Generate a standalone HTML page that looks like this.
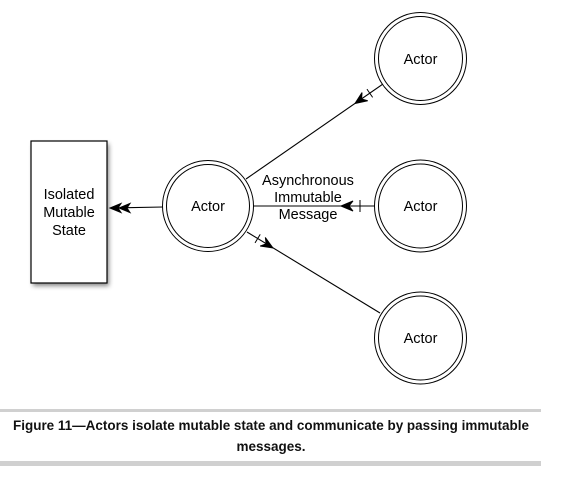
<!DOCTYPE html>
<html><head><style>
html,body{margin:0;padding:0;background:#fff;}
svg{display:block;}
</style></head><body>
<svg width="561" height="480" xmlns="http://www.w3.org/2000/svg" font-family="'Liberation Sans', sans-serif">
<defs>
<filter id="sh" x="-20%" y="-20%" width="150%" height="150%"><feGaussianBlur stdDeviation="2.5"/></filter>
</defs>
<rect x="33" y="144" width="76" height="142" fill="#555" filter="url(#sh)" opacity="0.7"/>
<rect x="31" y="141" width="76" height="142" fill="#fff" stroke="#000" stroke-width="1.2"/>
<text x="69" y="199" font-size="14.5" text-anchor="middle">Isolated</text>
<text x="69" y="217" font-size="14.5" text-anchor="middle">Mutable</text>
<text x="69" y="235" font-size="14.5" text-anchor="middle">State</text>

<g stroke="#000" stroke-width="1.1" fill="none">
<line x1="163" y1="207" x2="112" y2="208"/>
<line x1="383" y1="84" x2="246" y2="179"/>
<line x1="375" y1="206" x2="253" y2="206"/>
<line x1="247" y1="232" x2="380" y2="313"/>
</g>

<g fill="#000" stroke="#000" stroke-width="1">
<g transform="translate(110,208) rotate(180)"><path d="M0,0 L-11,-4.5 L-8,0 L-11,4.5Z"/><path d="M-9,0 L-20,-4.5 L-17,0 L-20,4.5Z"/></g>
<g transform="translate(355,103.5) rotate(145.3)"><path d="M0,0 L-12,-5 L-8,0 L-12,5Z"/><line x1="-18" y1="-5" x2="-18" y2="5"/></g>
<g transform="translate(341,206) rotate(180)"><path d="M0,0 L-12,-5 L-8,0 L-12,5Z"/><line x1="-19" y1="-6" x2="-19" y2="6"/></g>
<g transform="translate(273,248) rotate(31.3)"><path d="M0,0 L-12,-5 L-8,0 L-12,5Z"/><line x1="-18" y1="-5" x2="-18" y2="5"/></g>
</g>

<g fill="#fff" stroke="#000" stroke-width="1">
<circle cx="208" cy="206" r="45.5"/><circle cx="208" cy="206" r="41.5"/>
<circle cx="420.5" cy="58.5" r="46"/><circle cx="420.5" cy="58.5" r="42"/>
<circle cx="420.5" cy="206" r="46"/><circle cx="420.5" cy="206" r="42"/>
<circle cx="420.5" cy="338" r="46"/><circle cx="420.5" cy="338" r="42"/>
</g>
<g font-size="14.5" text-anchor="middle">
<text x="208" y="211">Actor</text>
<text x="420.5" y="64">Actor</text>
<text x="420.5" y="211">Actor</text>
<text x="420.5" y="343">Actor</text>
</g>

<g font-size="14.5" text-anchor="middle">
<text x="308" y="185">Asynchronous</text>
<text x="308" y="202">Immutable</text>
<text x="308" y="219">Message</text>
</g>

<rect x="0" y="409" width="541" height="3" fill="#d0d0d0"/>
<rect x="0" y="461" width="541" height="5" fill="#d0d0d0"/>
<g font-size="13.5" font-weight="bold" text-anchor="middle" fill="#111">
<text x="271" y="430" textLength="516" lengthAdjust="spacingAndGlyphs">Figure 11—Actors isolate mutable state and communicate by passing immutable</text>
<text x="271" y="451">messages.</text>
</g>
</svg>
</body></html>
